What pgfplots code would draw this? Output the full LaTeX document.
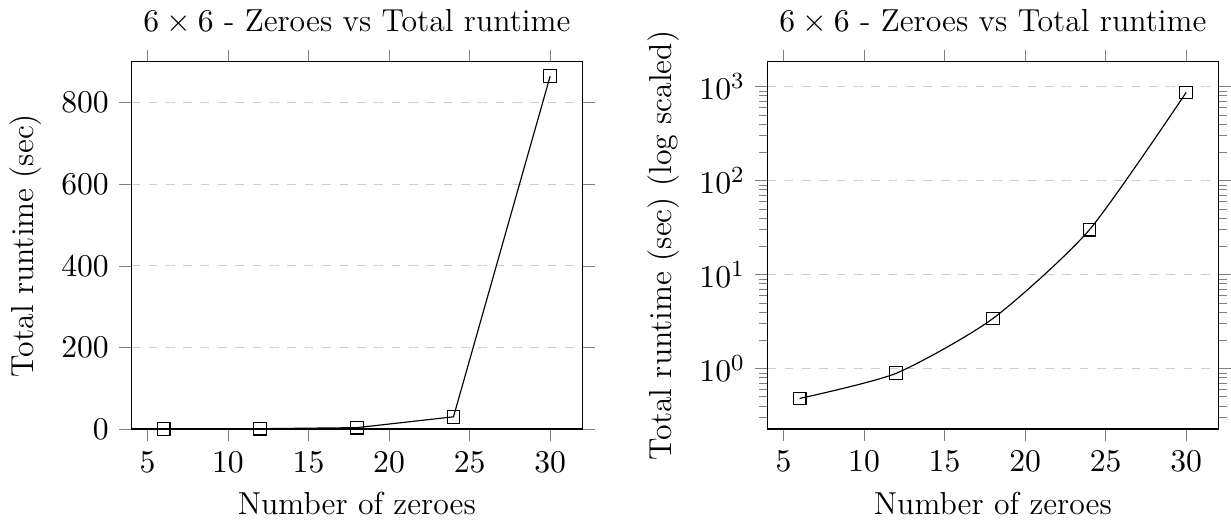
\documentclass[border=0pt]{standalone}
\usepackage{pgfplots}
\pgfplotsset{compat=1.18}
\usetikzlibrary{calc}

\pgfplotsset{
  every axis/.append style={font=\fontsize{11}{13.5}\selectfont},
  rtstyle/.style={
    scale only axis,
    width=156pt, height=127pt,
    xmin=4, xmax=32,
    xtick={5,10,15,20,25,30},
    tick align=outside,
    tick style={gray},
    ymajorgrids=true,
    grid style={dashed, gray!40},
    xlabel={Number of zeroes},
    title={$6\times6$ - Zeroes vs Total runtime},
  },
}

\begin{document}
\begin{tikzpicture}
  \begin{axis}[
    rtstyle,
    name=ax1,
    ymin=0, ymax=900,
    ytick={0,200,400,600,800},
    ylabel={Total runtime (sec)},
  ]
    \addplot[black, mark=square, mark size=2.2pt]
      coordinates {(6,0.48) (12,0.89) (18,3.4) (24,30) (30,865)};
  \end{axis}
  \begin{axis}[
    rtstyle,
    at={($(ax1.south east)+(64pt,0)$)}, anchor=south west,
    ymode=log,
    log basis y=10,
    ylabel={Total runtime (sec) (log scaled)},
  ]
    \addplot[black, smooth, tension=0.4, mark=square, mark size=2.2pt]
      coordinates {(6,0.48) (12,0.89) (18,3.4) (24,30) (30,865)};
  \end{axis}
\end{tikzpicture}
\end{document}
